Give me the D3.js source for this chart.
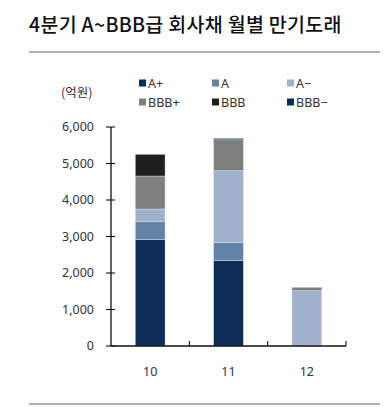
<!DOCTYPE html>
<html><head><meta charset="utf-8">
<script src="https://cdn.jsdelivr.net/npm/d3@7"></script>
<style>body{margin:0;background:#fff;font-family:"Noto Sans CJK KR","Noto Sans",sans-serif;}</style>
</head><body><svg id="c" width="391" height="407"></svg>
<script>
const months = ["10","11","12"];
const series = ["A+","A","A−","BBB+","BBB","BBB−"];
const colors = ["#0b2d57","#6282a8","#a0b2cb","#7f7f7f","#1e1e1e","#062e5a"];
const vA_plus  = [2912, 2337, 0];
const vA       = [504, 493, 0];
const vA_minus = [337, 1973, 1515];
const vBBBplus = [904, 849, 93];
const vBBB     = [595, 0, 0];
const vBBBminus= [0, 38, 0];
const yTicks = [0,1000,2000,3000,4000,5000,6000];
const title = "4분기 A~BBB급 회사채 월별 만기도래";
const unit = "(억원)";

const svgEl = d3.select("#c");
const valuesBySeries = [vA_plus,vA,vA_minus,vBBBplus,vBBB,vBBBminus];
const data = months.map((m,i)=>{const o={m}; series.forEach((s,j)=>o[s]=valuesBySeries[j][i]); return o;});

svgEl.append("text").attr("x",29).attr("y",32).attr("font-size",19.5).attr("font-weight",500).attr("letter-spacing",0.3).attr("fill","#111").text(title);
svgEl.append("line").attr("x1",29).attr("x2",380).attr("y1",52).attr("y2",52).attr("stroke","#666").attr("stroke-width",1);
svgEl.append("line").attr("x1",29).attr("x2",380).attr("y1",404).attr("y2",404).attr("stroke","#666").attr("stroke-width",1);

const x = d3.scaleBand().domain(months).range([111,346]).paddingInner(0.62).paddingOuter(0.31);
const y = d3.scaleLinear().domain([0,6000]).range([346,127]);

const stack = d3.stack().keys(series)(data);
svgEl.append("g").selectAll("g").data(stack).join("g").attr("fill",(d,i)=>colors[i])
 .selectAll("rect").data(d=>d).join("rect")
 .attr("x",d=>x(d.data.m)).attr("width",x.bandwidth())
 .attr("y",d=>y(d[1])).attr("height",d=>Math.max(0,y(d[0])-y(d[1])))
 .attr("stroke","#e6e9ee").attr("stroke-width",d=>d[1]-d[0]>0?0.4:0);

// y axis
const ya = svgEl.append("g").attr("transform","translate(111,0)");
ya.append("line").attr("x1",0).attr("x2",0).attr("y1",y(6000)).attr("y2",y(0)).attr("stroke","#111").attr("stroke-width",1.3);
ya.selectAll("line.t").data(yTicks).join("line").attr("class","t").attr("x1",-5).attr("x2",4).attr("y1",d=>y(d)).attr("y2",d=>y(d)).attr("stroke","#111").attr("stroke-width",1.1);
ya.selectAll("text").data(yTicks).join("text").attr("x",-17).attr("y",d=>y(d)).attr("dy","0.35em").attr("text-anchor","end").attr("font-size",12.5).attr("fill","#333").attr("font-family","Noto Sans, sans-serif").text(d=>d3.format(",")(d));

// x axis
const xa = svgEl.append("g");
xa.append("line").attr("x1",111).attr("x2",346).attr("y1",y(0)).attr("y2",y(0)).attr("stroke","#111").attr("stroke-width",1.3);
const step = x.step();
const bounds = months.map((m,i)=>111+step*(i+1));
xa.selectAll("line.t").data(bounds).join("line").attr("class","t").attr("x1",d=>d).attr("x2",d=>d).attr("y1",y(0)).attr("y2",y(0)-5).attr("stroke","#111").attr("stroke-width",1.1);
xa.selectAll("text").data(months).join("text").attr("x",d=>x(d)+x.bandwidth()/2).attr("y",y(0)+30).attr("text-anchor","middle").attr("font-size",12.5).attr("fill","#333").attr("font-family","Noto Sans, sans-serif").text(d=>d);

svgEl.append("text").attr("x",61).attr("y",97).attr("font-size",12.5).attr("fill","#333").text(unit);

// legend
const lx = [139,212,287];
const ly = [83,102];
series.forEach((s,i)=>{
  const cx = lx[i%3], cy = ly[Math.floor(i/3)];
  svgEl.append("rect").attr("x",cx).attr("y",cy-3.5).attr("width",7).attr("height",7).attr("fill",colors[i]);
  svgEl.append("text").attr("x",cx+9).attr("y",cy).attr("dy","0.36em").attr("font-size",12.5).attr("fill","#333").attr("font-family","Noto Sans, sans-serif").text(s);
});
</script></body></html>
